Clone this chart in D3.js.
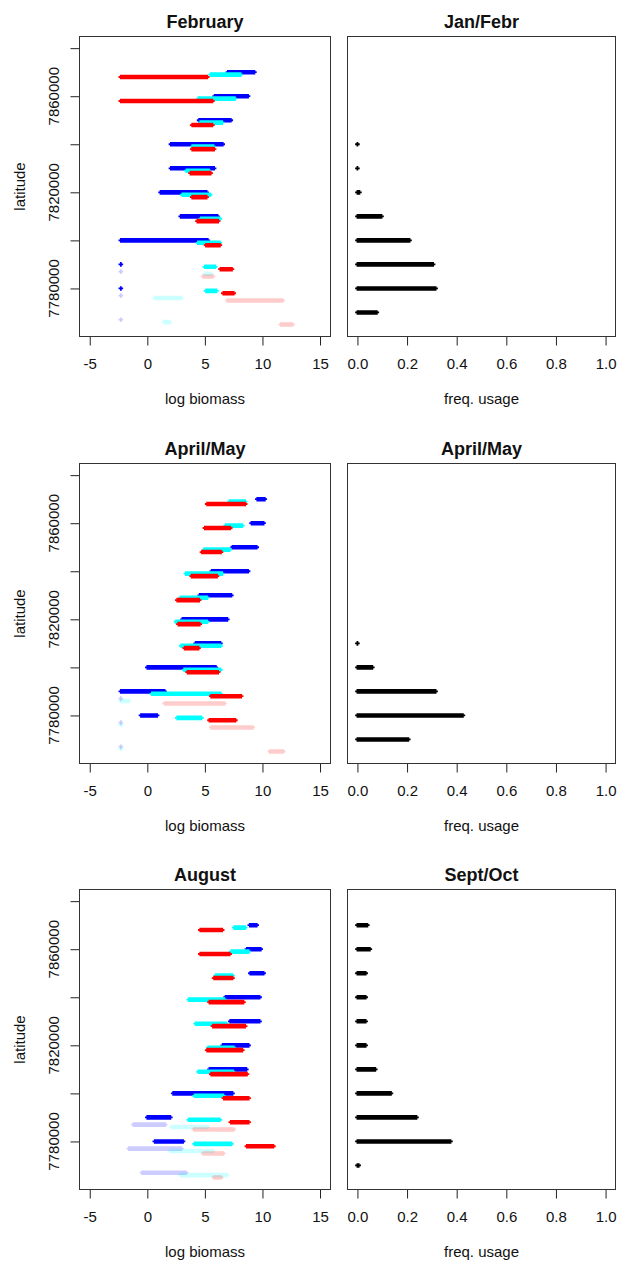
<!DOCTYPE html>
<html><head><meta charset="utf-8">
<script src="https://cdn.jsdelivr.net/npm/d3@7"></script>
<style>html,body{margin:0;padding:0;background:#fff}svg{display:block}</style>
</head><body>
<script>
// ---------- data ----------
const leftTitles = ["February", "April/May", "August"];
const rightTitles = ["Jan/Febr", "April/May", "Sept/Oct"];
const bioTicks = [-5, 0, 5, 10, 15];
const freqTicks = [0, 0.2, 0.4, 0.6, 0.8, 1.0];
const freqTickLabels = ["0.0", "0.2", "0.4", "0.6", "0.8", "1.0"];
const latTicks = [7780000, 7800000, 7820000, 7840000, 7860000, 7880000];
const latTickLabels = ["7780000", "", "7820000", "", "7860000", ""];

// [latitude, low log biomass, high log biomass]
const febBlue = [[7870000,7.0,9.3],[7860000,5.85,8.75],[7850000,4.5,7.25],[7840000,2.05,6.55],[7830000,2.05,5.8],[7820000,1.15,5.15],[7810000,2.9,6.1],[7800000,-2.3,5.25],[7790000,-2.3,-2.3],[7780000,-2.3,-2.3]];
const febCyan = [[7870000,5.5,8.1],[7860000,4.45,7.6],[7850000,4.6,6.5],[7840000,3.9,5.75],[7830000,3.4,5.35],[7820000,3.05,5.45],[7810000,4.65,6.3],[7800000,4.4,6.3],[7790000,5.0,5.9],[7780000,5.1,6.0]];
const febRed = [[7870000,-2.3,5.2],[7860000,-2.3,5.65],[7850000,3.9,5.65],[7840000,3.9,5.8],[7830000,3.75,5.5],[7820000,3.9,5.15],[7810000,4.35,6.15],[7800000,5.1,6.3],[7790000,6.35,7.35],[7780000,6.6,7.5]];
const febLightBlue = [[7790000,-2.3,-2.3],[7780000,-2.3,-2.3],[7770000,-2.3,-2.3]];
const febLightCyan = [[7790000,5.0,5.55],[7780000,0.65,2.95],[7770000,1.45,1.95]];
const febPink = [[7790000,4.85,5.7],[7780000,6.95,11.75],[7770000,11.6,12.6]];

const aprBlue = [[7870000,9.55,10.2],[7860000,9.05,10.1],[7850000,7.4,9.5],[7840000,5.6,8.75],[7830000,4.55,7.3],[7820000,3.05,6.95],[7810000,4.2,6.35],[7800000,0.0,5.95],[7790000,-2.3,1.5],[7780000,-0.55,0.85]];
const aprCyan = [[7870000,7.15,8.5],[7860000,6.8,8.25],[7850000,4.95,7.15],[7840000,3.35,6.5],[7830000,2.9,5.2],[7820000,2.5,5.2],[7810000,2.95,6.35],[7800000,3.2,6.35],[7790000,0.4,6.35],[7780000,2.6,4.7]];
const aprRed = [[7870000,5.2,8.5],[7860000,5.0,7.2],[7850000,4.75,6.4],[7840000,3.85,6.05],[7830000,2.6,4.5],[7820000,2.7,4.55],[7810000,3.25,4.45],[7800000,3.5,6.15],[7790000,5.55,8.15],[7780000,5.4,7.65]];
const aprLightBlue = [[7790000,-2.3,-2.3],[7780000,-2.3,-2.3],[7770000,-2.3,-2.3]];
const aprLightCyan = [[7790000,-2.3,-1.6],[7780000,-2.3,-2.3],[7770000,-2.3,-2.3]];
const aprPink = [[7790000,1.5,6.7],[7780000,5.55,9.15],[7770000,10.65,11.8]];

const augBlue = [[7870000,8.9,9.5],[7860000,8.65,9.85],[7850000,8.95,10.1],[7840000,6.8,9.75],[7830000,7.2,9.75],[7820000,6.55,8.8],[7810000,5.4,8.6],[7800000,2.25,7.4],[7790000,0.0,2.0],[7780000,0.65,3.1]];
const augCyan = [[7870000,7.55,8.5],[7860000,7.3,8.8],[7850000,5.95,7.4],[7840000,3.6,6.7],[7830000,4.2,6.85],[7820000,5.3,7.5],[7810000,4.45,7.45],[7800000,4.1,6.6],[7790000,3.6,6.3],[7780000,4.1,7.3]];
const augRed = [[7870000,4.6,6.5],[7860000,4.6,7.15],[7850000,5.8,7.4],[7840000,5.4,8.35],[7830000,5.7,8.5],[7820000,5.2,8.25],[7810000,5.55,8.65],[7800000,6.65,8.8],[7790000,7.25,8.8],[7780000,8.65,10.95]];
const augLightBlue = [[7790000,-1.2,1.55],[7780000,-1.6,2.95],[7770000,-0.45,3.35]];
const augLightCyan = [[7790000,2.1,5.25],[7780000,2.0,5.7],[7770000,2.9,6.9]];
const augPink = [[7790000,4.05,7.5],[7780000,4.85,6.6],[7770000,5.8,6.4]];

const janFreqLat = [7840000,7830000,7820000,7810000,7800000,7790000,7780000,7770000];
const janFreq = [0.0,0.0,0.008,0.097,0.21,0.305,0.315,0.078];
const aprFreqLat = [7810000,7800000,7790000,7780000,7770000];
const aprFreq = [0.0,0.06,0.315,0.425,0.205];
const sepFreqLat = [7870000,7860000,7850000,7840000,7830000,7820000,7810000,7800000,7790000,7780000,7770000];
const sepFreq = [0.04,0.05,0.033,0.033,0.033,0.033,0.072,0.135,0.238,0.375,0.005];

// series order: blue, cyan, red, light blue, light cyan, pink (each shifted 1000 further south)
const seriesColors = ["#0000ff", "#00ffff", "#ff0000", "rgba(0,0,255,0.2)", "rgba(0,255,255,0.2)", "rgba(255,0,0,0.2)"];
const seriesShift = [0, 1000, 2000, 3000, 4000, 5000];

const leftData = [
  [febBlue, febCyan, febRed, febLightBlue, febLightCyan, febPink],
  [aprBlue, aprCyan, aprRed, aprLightBlue, aprLightCyan, aprPink],
  [augBlue, augCyan, augRed, augLightBlue, augLightCyan, augPink]
];
const rightData = [[janFreqLat, janFreq], [aprFreqLat, aprFreq], [sepFreqLat, sepFreq]];

// ---------- layout ----------
const W = 617, H = 1264;
const rowTops = [36.5, 463.5, 889.5];
const boxH = 300;
const L = {x0: 79.5, x1: 330.5};
const R = {x0: 347.5, x1: 615.5};
const font = "'Liberation Sans', Arial, sans-serif";
const txt = "#111";

const svg = d3.select("body").append("svg").attr("width", W).attr("height", H)
  .style("font-family", font);

const xBio = d3.scaleLinear().domain([-5.89, 15.91]).range([L.x0, L.x1]);
const xFreq = d3.scaleLinear().domain([-0.04, 1.04]).range([R.x0, R.x1]);

// run of "+" symbols: thick band plus thinner arms sticking out at both ends
function barPath(xa, xb, y) {
  const h = 2.3, w = 0.9, a = 2.3;
  return `M${xa - a},${y - w}H${xa - w}V${y - h}H${xb + w}V${y - w}H${xb + a}V${y + w}H${xb + w}V${y + h}H${xa - w}V${y + w}H${xa - a}Z`;
}

function drawFrame(g, x, col, top, title, xlab, ticks, tickLabels, showY, y) {
  const bottom = top + boxH;
  const cx = (col.x0 + col.x1) / 2;
  g.append("text").attr("x", cx).attr("y", top - 8.7).attr("text-anchor", "middle")
    .attr("font-size", 18).attr("font-weight", "bold").attr("fill", txt).text(title);
  const xa = g.append("g").attr("transform", `translate(0,${bottom})`)
    .call(d3.axisBottom(x).tickValues(ticks).tickSize(9).tickPadding(13)
      .tickFormat((d, i) => tickLabels[i]));
  xa.select(".domain").remove();
  xa.selectAll("line").attr("stroke", "#222");
  xa.selectAll("text").attr("font-size", 15).attr("fill", txt).attr("font-family", font);
  g.append("text").attr("x", cx).attr("y", bottom + 67).attr("text-anchor", "middle")
    .attr("font-size", 15).attr("fill", txt).text(xlab);
  if (showY) {
    const ya = g.append("g").attr("transform", `translate(${col.x0},0)`)
      .call(d3.axisLeft(y).tickValues(latTicks).tickSize(9).tickFormat(""));
    ya.select(".domain").remove();
    ya.selectAll("line").attr("stroke", "#222");
    latTicks.forEach((t, i) => {
      if (!latTickLabels[i]) return;
      g.append("text").attr("transform", `translate(59,${y(t)}) rotate(-90)`)
        .attr("text-anchor", "middle").attr("font-size", 15).attr("fill", txt).text(latTickLabels[i]);
    });
    g.append("text").attr("transform", `translate(25,${(top + bottom) / 2}) rotate(-90)`)
      .attr("text-anchor", "middle").attr("font-size", 15).attr("fill", txt).text("latitude");
  }
  return bottom;
}

rowTops.forEach((top, r) => {
  const bottom = top + boxH;
  const y = d3.scaleLinear().domain([7760000, 7884850]).range([bottom, top]);

  const gl = svg.append("g");
  drawFrame(gl, xBio, L, top, leftTitles[r], "log biomass", bioTicks, bioTicks.map(String), true, y);
  const clipId = "clipL" + r;
  svg.append("clipPath").attr("id", clipId).append("rect")
    .attr("x", L.x0).attr("y", top).attr("width", L.x1 - L.x0).attr("height", boxH);
  const marks = gl.append("g").attr("clip-path", `url(#${clipId})`);
  leftData[r].forEach((series, s) => {
    marks.append("g").selectAll("path").data(series).join("path")
      .attr("d", d => barPath(xBio(d[1]), xBio(d[2]), y(d[0] - seriesShift[s])))
      .attr("fill", seriesColors[s]);
  });
  gl.append("rect").attr("x", L.x0).attr("y", top).attr("width", L.x1 - L.x0).attr("height", boxH)
    .attr("fill", "none").attr("stroke", "#333").attr("stroke-width", 1);

  const gr = svg.append("g");
  drawFrame(gr, xFreq, R, top, rightTitles[r], "freq. usage", freqTicks, freqTickLabels, false, y);
  const [lats, vals] = rightData[r];
  gr.append("g").selectAll("path").data(lats.map((la, i) => [la, vals[i]])).join("path")
    .attr("d", d => barPath(xFreq(0), xFreq(d[1]), y(d[0])))
    .attr("fill", "#000");
  gr.append("rect").attr("x", R.x0).attr("y", top).attr("width", R.x1 - R.x0).attr("height", boxH)
    .attr("fill", "none").attr("stroke", "#333").attr("stroke-width", 1);
});
</script>
</body></html>
